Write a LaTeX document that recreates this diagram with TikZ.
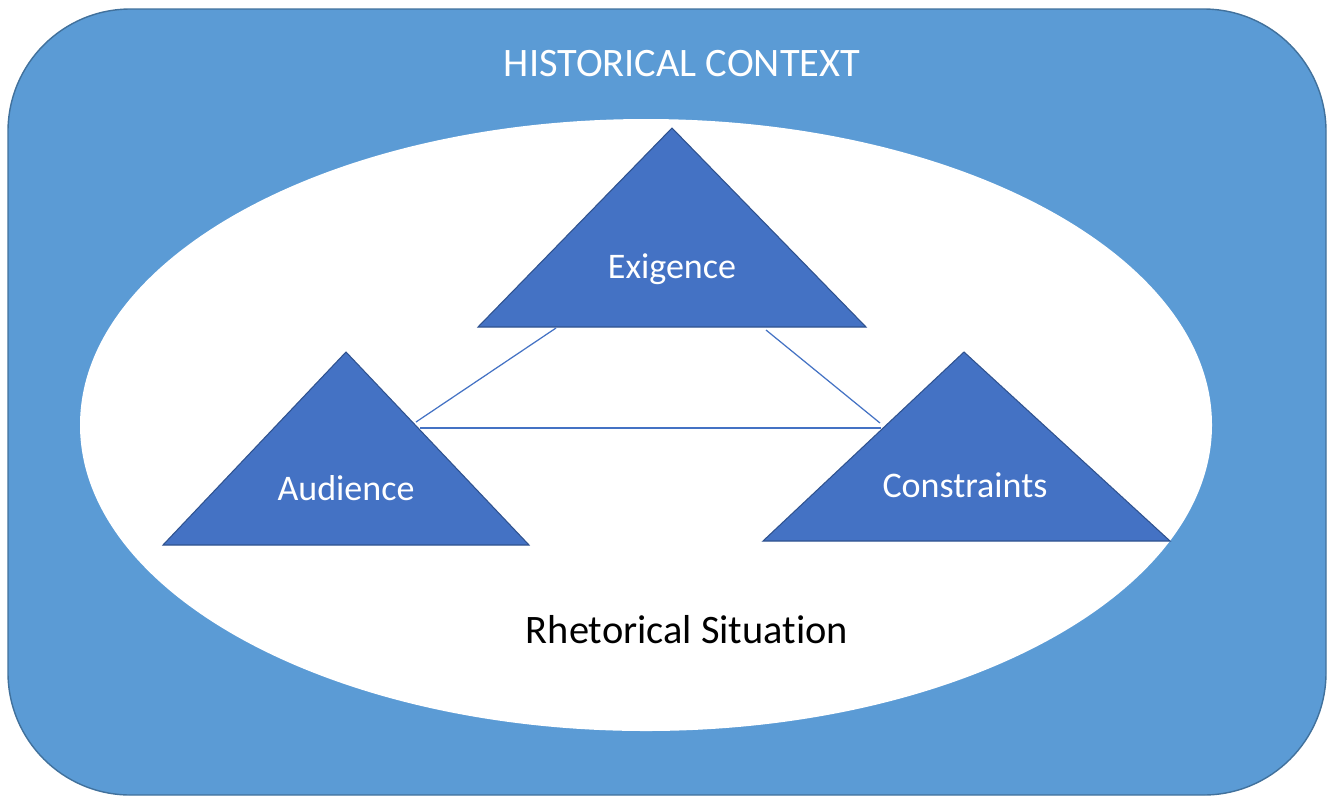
\documentclass[tikz,border=0pt]{standalone}
\usepackage{fontspec}
\setmainfont[Ligatures=NoCommon]{Carlito}
\definecolor{ctxblue}{HTML}{5B9BD5}
\definecolor{ctxline}{HTML}{41719C}
\definecolor{triblue}{HTML}{4472C4}
\definecolor{triline}{HTML}{2F528F}

\begin{document}
\begin{tikzpicture}[x=0.02cm,y=-0.02cm,
  tri/.style={fill=triblue,draw=triline,line width=0.6pt},
  link/.style={draw=triblue,line width=0.7pt},
  lbl/.style={text=white,font=\fontsize{20.5}{24}\selectfont}]
\useasboundingbox (0,0) rectangle (1328,796);
\draw[fill=ctxblue,draw=ctxline,line width=0.8pt,rounded corners=2.45cm] (8,9) rectangle (1326,795);
\node[text=white,font=\fontsize{23}{27}\selectfont] (hist) at (682,64) {HISTORICAL CONTEXT};
\draw[fill=white,draw=none] (646,425) ellipse [x radius=566, y radius=306];
\node[font=\fontsize{23}{27}\selectfont] (rhet) at (687,630) {Rhetorical Situation};

\draw[tri] (672,128) -- (866,327) -- (478,327) -- cycle;
\draw[tri] (346,352) -- (529,545) -- (163,545) -- cycle;
\draw[tri] (964,352) -- (1170,541) -- (763,541) -- cycle;
\node[lbl] (ex) at (672,269) {Exigence};
\node[lbl] (aud) at (346,488) {Audience};
\node[lbl] (con) at (965,485) {Constraints};

\coordinate (exl) at (556,328);
\coordinate (exr) at (766,330);
\coordinate (aup) at (416,422);
\coordinate (aum) at (420,428);
\coordinate (cop) at (880,423);
\coordinate (com) at (881,428);
\draw[link] (exl)--(aup);
\draw[link] (exr)--(cop);
\draw[link] (aum)--(com);
\end{tikzpicture}
\end{document}
